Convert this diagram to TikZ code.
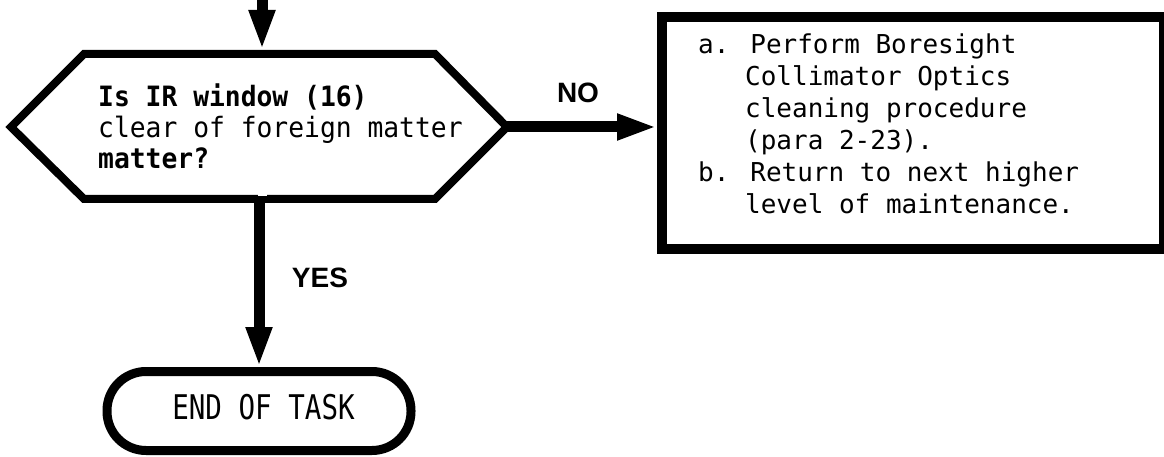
\documentclass[tikz,border=0pt]{standalone}
\usepackage{fontspec}
\setmainfont{DejaVu Sans Mono}
\newfontfamily\hexfont[FakeStretch=0.94]{DejaVu Sans Mono}
\newfontfamily\endfont[FakeStretch=0.81]{DejaVu Sans Mono}
\newfontfamily\lblfont{Liberation Sans}
\usetikzlibrary{arrows.meta}
\begin{document}
\begin{tikzpicture}[x=1pt,y=-1pt,
  hextxt/.style={font=\hexfont\fontsize{28}{31}\selectfont, inner sep=0pt, align=left},
  boxtxt/.style={font=\fontsize{26}{32}\selectfont, inner sep=0pt, align=left},
  lbl/.style={font=\lblfont\bfseries\fontsize{28}{30}\selectfont, inner sep=0pt},
  flow/.style={line width=11pt, -{Triangle[width=24pt,length=40pt]}},
  boxline/.style={draw, line width=10pt},
]
\useasboundingbox (0,0) rectangle (1164,457);
% decision hexagon
\coordinate (hT) at (262,50);
\coordinate (hB) at (259,199);
\coordinate (hL) at (11,127);
\coordinate (hR) at (507,127);
\draw[line width=8pt, line join=miter] (hL) -- (84,54) -- (435,54) -- (hR) -- (435,199) -- (84,199) -- cycle;
\node[hextxt, anchor=north west] (dec) at (98,84) {\textbf{Is IR window (16)}\\clear of foreign matter\\\textbf{matter?}};
% action box
\node[boxline, minimum width=502pt, minimum height=232pt, anchor=north west] (act) at (657,12) {};
\node[boxtxt, anchor=north west] (acttxt) at (698,34) {a. Perform Boresight\\\phantom{a.}\ Collimator Optics\\\phantom{a.}\ cleaning procedure\\\phantom{a.}\ (para 2-23).\\b. Return to next higher\\\phantom{a.}\ level of maintenance.};
% end
\node[draw, line width=9pt, rounded corners=39pt, minimum width=304pt, minimum height=79pt, inner sep=0pt] (end) at (259,411) {};
\node[font=\endfont\fontsize{34}{36}\selectfont, inner sep=0pt] (endtxt) at (263.5,407) {END OF TASK};
% connectors
\coordinate (in) at (262,0);
\draw[flow] (in) -- (hT);
\draw[flow] (hB) -- (end.north);
\draw[flow] (hR) -- (act.west |- hR);
\fill[white] (258,192) rectangle (267,196);
% labels
\node[lbl] (no) at (578,93) {NO};
\node[lbl] (yes) at (320,278) {YES};
\end{tikzpicture}
\end{document}
